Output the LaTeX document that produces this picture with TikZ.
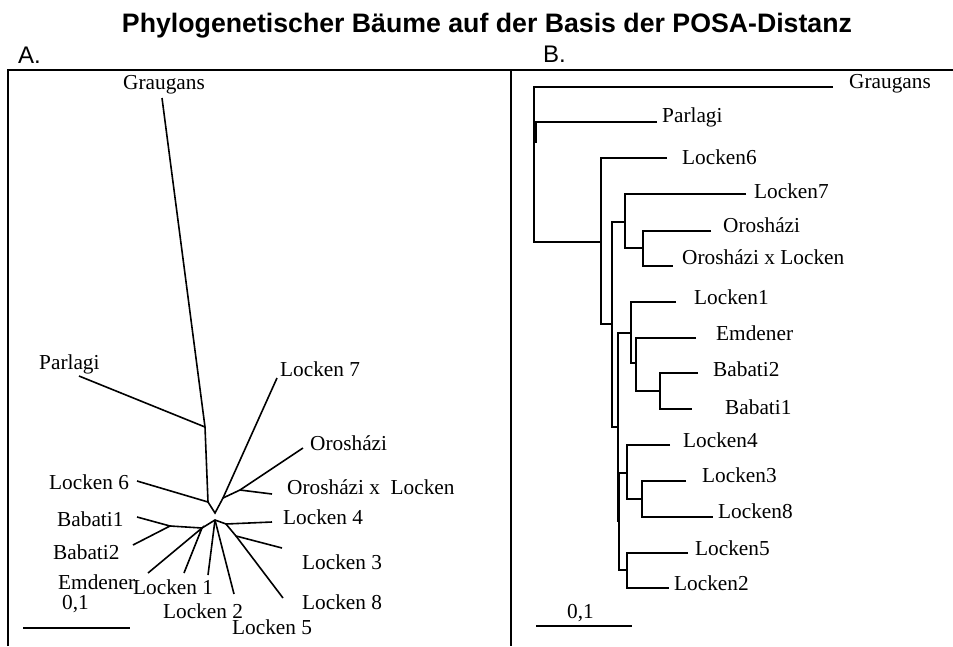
\documentclass[tikz,border=0pt]{standalone}
\usepackage{fontspec}
\setmainfont{Liberation Serif}
\newfontfamily\arialfont{Liberation Sans}
\begin{document}
\begin{tikzpicture}[x=1pt,y=-1pt,
  tree/.style={line width=1.6pt, line join=miter},
  frame/.style={line width=2pt},
  lbl/.style={font=\fontsize{21.3}{25}\selectfont, inner sep=0pt, anchor=west},
  head/.style={font=\arialfont\fontsize{24}{28}\selectfont, inner sep=0pt, anchor=base west},
  ]
\useasboundingbox (0,0) rectangle (953,646);
% title and panel letters
\node[font=\arialfont\bfseries\fontsize{26.7}{30}\selectfont, inner sep=0pt, anchor=base] (title) at (487,32) {Phylogenetischer Bäume auf der Basis der POSA-Distanz};
\node[head] (pa) at (18,63) {A.};
\node[head] (pb) at (543,62) {B.};
% frame
\coordinate (fbl) at (8,646);
\coordinate (ftl) at (8,70);
\coordinate (ftr) at (953,70);
\coordinate (fmt) at (511,70);
\coordinate (fmb) at (511,646);
\draw[frame] (fbl) -- (ftl) -- (ftr);
\draw[frame] (fmt) -- (fmb);

% ---------------- Tree A (unrooted) ----------------
\coordinate (gA) at (162,98);
\coordinate (nA1) at (205,427);
\coordinate (pA) at (79,376);
\coordinate (nA2) at (208,502);
\coordinate (l6A) at (137,481);
\coordinate (vA) at (215,513);
\coordinate (nA3) at (223,498);
\coordinate (l7A) at (277,378);
\coordinate (nA4) at (240,490);
\coordinate (oroA) at (303,448);
\coordinate (oxlA) at (272,494);
\coordinate (lA) at (215,520);
\coordinate (nA5) at (202,528);
\coordinate (babA) at (170,526);
\coordinate (b1A) at (137,517);
\coordinate (b2A) at (133,545);
\coordinate (emA) at (148,573);
\coordinate (l1A) at (184,573);
\coordinate (l2A) at (208,575);
\coordinate (l5A) at (234,594);
\coordinate (nA6) at (226,524);
\coordinate (l4A) at (272,522);
\coordinate (nA7) at (236,536);
\coordinate (l3A) at (282,548);
\coordinate (l8A) at (283,598);

\draw[tree] (gA) -- (nA1) -- (nA2) -- (vA) -- (nA3) -- (l7A);
\draw[tree] (pA) -- (nA1);
\draw[tree] (l6A) -- (nA2);
\draw[tree] (nA3) -- (nA4) -- (oroA);
\draw[tree] (nA4) -- (oxlA);
\draw[tree] (b1A) -- (babA) -- (b2A);
\draw[tree] (babA) -- (nA5) -- (lA) -- (nA6) -- (l4A);
\draw[tree] (emA) -- (nA5) -- (l1A);
\draw[tree] (lA) -- (l2A);
\draw[tree] (lA) -- (l5A);
\draw[tree] (nA6) -- (nA7) -- (l3A);
\draw[tree] (nA7) -- (l8A);

\node[lbl] (tgA) at (123,85) {Graugans};
\node[lbl] (tpA) at (39,364) {Parlagi};
\node[lbl] (t7A) at (280,369) {Locken 7};
\node[lbl] (toA) at (310,443) {Orosházi};
\node[lbl] (txA) at (287,487) {Orosházi x\ \ Locken};
\node[lbl] (t6A) at (49,482) {Locken 6};
\node[lbl] (tb1A) at (57,519) {Babati1};
\node[lbl] (tb2A) at (53,552) {Babati2};
\node[lbl] (teA) at (58,582) {Emdener};
\node[lbl] (t1A) at (133,587) {Locken 1};
\node[lbl] (t4A) at (283,517) {Locken 4};
\node[lbl] (t3A) at (302,562) {Locken 3};
\node[lbl] (t8A) at (302,602) {Locken 8};
\node[lbl] (t2A) at (163,611) {Locken 2};
\node[lbl] (t5A) at (232,627) {Locken 5};
\node[lbl] (tsA) at (62,604) {0,1};
\coordinate (sA1) at (23,628);
\coordinate (sA2) at (130,628);
\draw[tree] (sA1) -- (sA2);

% ---------------- Tree B (rooted) ----------------
\coordinate (gB) at (833,87);
\coordinate (rB) at (534,87);
\coordinate (rBb) at (534,242);
\coordinate (pBj) at (536,143);
\coordinate (pBt) at (536,122);
\coordinate (pB) at (657,122);
\coordinate (c1) at (601,242);
\coordinate (c1t) at (601,158);
\coordinate (l6B) at (667,158);
\coordinate (c1b) at (601,324);
\coordinate (c2) at (612,324);
\coordinate (c2t) at (612,222);
\coordinate (c2b) at (612,427);
\coordinate (c3) at (625,222);
\coordinate (c3t) at (625,194);
\coordinate (l7B) at (746,194);
\coordinate (c3b) at (625,248);
\coordinate (c4) at (643,248);
\coordinate (c4t) at (643,231);
\coordinate (oroB) at (711,231);
\coordinate (c4b) at (643,266);
\coordinate (oxlB) at (673,266);
\coordinate (c5) at (618,427);
\coordinate (c5t) at (618,333);
\coordinate (c5b) at (618,522);
\coordinate (c6) at (631,333);
\coordinate (c6t) at (631,302);
\coordinate (l1B) at (676,302);
\coordinate (c6b) at (631,363);
\coordinate (c7) at (636,363);
\coordinate (c7t) at (636,338);
\coordinate (emB) at (696,338);
\coordinate (c7b) at (636,391);
\coordinate (c8) at (660,391);
\coordinate (c8t) at (660,373);
\coordinate (b2B) at (698,373);
\coordinate (c8b) at (660,409);
\coordinate (b1B) at (692,409);
\coordinate (c9t) at (619,473);
\coordinate (c9b) at (619,570);
\coordinate (c10) at (627,473);
\coordinate (c10t) at (627,445);
\coordinate (l4B) at (670,445);
\coordinate (c10b) at (627,499);
\coordinate (c11) at (642,499);
\coordinate (c11t) at (642,481);
\coordinate (l3B) at (686,481);
\coordinate (c11b) at (642,517);
\coordinate (l8B) at (713,517);
\coordinate (c12) at (627,570);
\coordinate (c12t) at (627,553);
\coordinate (l5B) at (688,553);
\coordinate (c12b) at (627,588);
\coordinate (l2B) at (669,588);

\draw[tree] (gB) -- (rB) -- (rBb) -- (c1);
\draw[tree] (pB) -- (pBt) -- (pBj);
\draw[tree] (l6B) -- (c1t) -- (c1b) -- (c2);
\draw[tree] (c3) -- (c2t) -- (c2b) -- (c5);
\draw[tree] (l7B) -- (c3t) -- (c3b) -- (c4);
\draw[tree] (oroB) -- (c4t) -- (c4b) -- (oxlB);
\draw[tree] (c6) -- (c5t) -- (c5b);
\draw[tree] (l1B) -- (c6t) -- (c6b) -- (c7);
\draw[tree] (emB) -- (c7t) -- (c7b) -- (c8);
\draw[tree] (b2B) -- (c8t) -- (c8b) -- (b1B);
\draw[tree] (c10) -- (c9t) -- (c9b) -- (c12);
\draw[tree] (l4B) -- (c10t) -- (c10b) -- (c11);
\draw[tree] (l3B) -- (c11t) -- (c11b) -- (l8B);
\draw[tree] (l5B) -- (c12t) -- (c12b) -- (l2B);

\node[lbl] (tgB) at (849,84) {Graugans};
\node[lbl] (tpB) at (662,117) {Parlagi};
\node[lbl] (t6B) at (682,157) {Locken6};
\node[lbl] (t7B) at (754,191) {Locken7};
\node[lbl] (toB) at (723,225) {Orosházi};
\node[lbl] (txB) at (682,257) {Orosházi x Locken};
\node[lbl] (t1B) at (694,297) {Locken1};
\node[lbl] (teB) at (716,333) {Emdener};
\node[lbl] (tb2B) at (713,369) {Babati2};
\node[lbl] (tb1B) at (725,407) {Babati1};
\node[lbl] (t4B) at (683,440) {Locken4};
\node[lbl] (t3B) at (702,475) {Locken3};
\node[lbl] (t8B) at (718,511) {Locken8};
\node[lbl] (t5B) at (695,548) {Locken5};
\node[lbl] (t2B) at (674,583) {Locken2};
\node[lbl] (tsB) at (567,613) {0,1};
\coordinate (sB1) at (536,626);
\coordinate (sB2) at (632,626);
\draw[tree] (sB1) -- (sB2);
\end{tikzpicture}
\end{document}
